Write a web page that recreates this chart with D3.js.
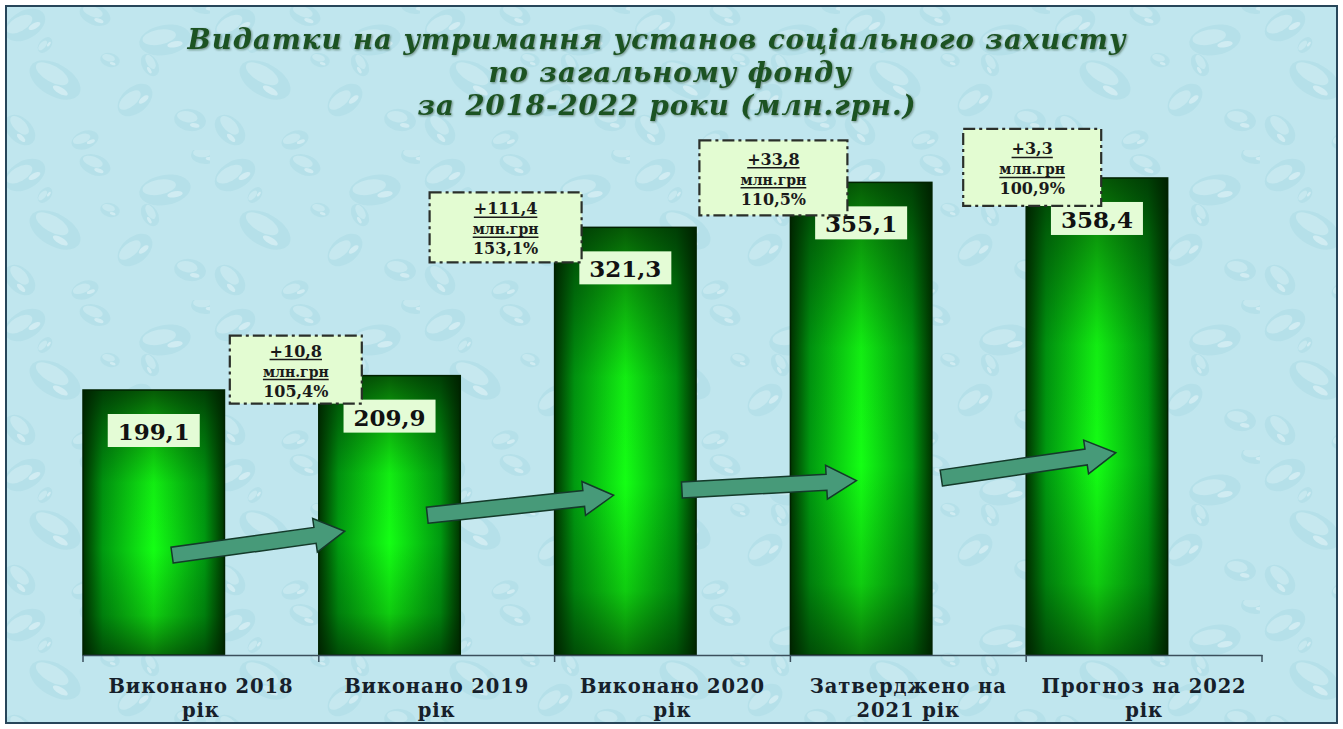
<!DOCTYPE html>
<html>
<head>
<meta charset="utf-8">
<script src="https://cdn.jsdelivr.net/npm/d3@7/dist/d3.min.js"></script>
<style>
  html, body { margin: 0; padding: 0; background: #ffffff; }
  svg { display: block; }
</style>
</head>
<body>
<svg id="chart" width="1343" height="729"></svg>
<script>
// ---------------- DATA ----------------
const categories = ["Виконано 2018 рік", "Виконано 2019 рік", "Виконано 2020 рік", "Затверджено на 2021 рік", "Прогноз на 2022 рік"];
const categoryLines = [["Виконано 2018", "рік"], ["Виконано 2019", "рік"], ["Виконано 2020", "рік"], ["Затверджено на", "2021 рік"], ["Прогноз на 2022", "рік"]];
const values = [199.1, 209.9, 321.3, 355.1, 358.4];
const valueLabels = ["199,1", "209,9", "321,3", "355,1", "358,4"];
const deltaLabels = ["+10,8", "+111,4", "+33,8", "+3,3"];
const unitLabel = "млн.грн";
const percentLabels = ["105,4%", "153,1%", "110,5%", "100,9%"];
const titleLines = ["Видатки на утримання установ соціального захисту", "по загальному фонду", "за 2018-2022 роки (млн.грн.)"];

// ---------------- LAYOUT ----------------
const plot = { left: 83, right: 1262, bottom: 655 };
const yMax = 400, pxPerUnit = 1.331;
const annoDx = [-23, -49, -17, 6];
const annoDy = [-40, -35, -42, -49];
const annoW = [132, 152, 148, 138];
const annoH = [68, 70, 75, 77];
const arrowTailF = [0.378, 0.46, 0.54, 0.64];
const arrowTipF = [0.11, 0.25, 0.28, 0.38];
const arrowTailV = [75, 105, 124, 133];
const arrowTipV = [93, 120, 131, 152];

const svg = d3.select("#chart");
const defs = svg.append("defs");

// background texture pattern (water drops)
const pat = defs.append("pattern").attr("id", "drops").attr("patternUnits", "userSpaceOnUse")
  .attr("width", 210).attr("height", 150);
pat.append("rect").attr("width", 210).attr("height", 150).attr("fill", "#c0e6ee");
const dropSpecs = [
  [25, 25, 22, 14, -30], [95, 15, 16, 10, 20], [165, 40, 26, 15, -10], [55, 80, 28, 16, 30],
  [135, 100, 20, 13, -40], [190, 120, 16, 11, 10], [20, 130, 18, 12, 45], [85, 140, 14, 9, -20],
  [150, 65, 12, 8, 60], [205, 5, 14, 9, 0], [110, 60, 10, 7, 15], [45, 45, 9, 6, -50]
];
dropSpecs.forEach(d => {
  const g = pat.append("g").attr("transform", `translate(${d[0]},${d[1]}) rotate(${d[4]})`);
  g.append("ellipse").attr("rx", d[2]).attr("ry", d[3]).attr("fill", "#a6d6e1").attr("opacity", 0.4);
  g.append("ellipse").attr("cx", -d[2] * 0.2).attr("cy", -d[3] * 0.25).attr("rx", d[2] * 0.65).attr("ry", d[3] * 0.5)
    .attr("fill", "#dff4f8").attr("opacity", 0.4);
  g.append("ellipse").attr("cx", d[2] * 0.35).attr("cy", d[3] * 0.4).attr("rx", d[2] * 0.3).attr("ry", d[3] * 0.2)
    .attr("fill", "#f2fcfd").attr("opacity", 0.45);
});

// bar gradients
const hg = defs.append("linearGradient").attr("id", "barH").attr("x1", "0").attr("x2", "1").attr("y1", "0").attr("y2", "0");
[[0, "#003400"], [0.14, "#009a10"], [0.5, "#14ff14"], [0.86, "#009a10"], [1, "#003400"]]
  .forEach(s => hg.append("stop").attr("offset", s[0]).attr("stop-color", s[1]));
const vg = defs.append("linearGradient").attr("id", "barV").attr("x1", "0").attr("x2", "0").attr("y1", "0").attr("y2", "1");
[[0, 0.72], [0.12, 0.45], [0.35, 0.08], [0.6, 0.0], [0.85, 0.22], [1, 0.6]]
  .forEach(s => vg.append("stop").attr("offset", s[0]).attr("stop-color", "#001a00").attr("stop-opacity", s[1]));

const shadow = defs.append("filter").attr("id", "tshadow").attr("x", "-5%").attr("y", "-20%").attr("width", "110%").attr("height", "140%");
shadow.append("feDropShadow").attr("dx", 1).attr("dy", 1).attr("stdDeviation", 1.2)
  .attr("flood-color", "#0a2a10").attr("flood-opacity", 0.5);

// background & frame
svg.append("rect").attr("x", 6).attr("y", 6).attr("width", 1331).attr("height", 717).attr("fill", "url(#drops)");
svg.append("rect").attr("x", 6).attr("y", 6).attr("width", 1331).attr("height", 717)
  .attr("fill", "none").attr("stroke", "#27465a").attr("stroke-width", 2);

// scales
const x = d3.scaleBand().domain(categories).range([plot.left, plot.right]).paddingInner(0).paddingOuter(0);
const y = d3.scaleLinear().domain([0, yMax]).range([plot.bottom, plot.bottom - yMax * pxPerUnit]);
const barW = x.bandwidth() * 0.6;

// bars
const bars = svg.append("g");
categories.forEach((c, i) => {
  const bx = x(c), by = y(values[i]), bh = y(0) - y(values[i]);
  bars.append("rect").attr("x", bx).attr("y", by).attr("width", barW).attr("height", bh).attr("fill", "url(#barH)");
  bars.append("rect").attr("x", bx).attr("y", by).attr("width", barW).attr("height", bh).attr("fill", "url(#barV)")
    .attr("stroke", "#012201").attr("stroke-width", 1.5);
});

// axis
const axis = svg.append("g").attr("transform", `translate(0,${plot.bottom})`)
  .call(d3.axisBottom(x).tickSize(0).tickFormat(""));
axis.select(".domain").attr("stroke", "#3b4f5c").attr("stroke-width", 1.5);
const bounds = categories.map(c => x(c)).concat([plot.right]);
axis.selectAll(".bnd").data(bounds).enter().append("line").attr("class", "bnd")
  .attr("x1", d => d).attr("x2", d => d).attr("y1", 0).attr("y2", 7)
  .attr("stroke", "#3b4f5c").attr("stroke-width", 1.5);

// category labels
const catG = svg.append("g").attr("font-family", "'DejaVu Serif', serif").attr("font-weight", "bold")
  .attr("fill", "#16202a").attr("text-anchor", "middle").attr("font-size", 19.5).attr("letter-spacing", 0.9);
categories.forEach((c, i) => {
  const cx = x(c) + x.bandwidth() / 2;
  categoryLines[i].forEach((ln, k) => {
    catG.append("text").attr("x", cx).attr("y", k === 0 ? 693 : 717).text(ln);
  });
});

// value labels on bars
const vl = svg.append("g");
categories.forEach((c, i) => {
  const cx = x(c) + barW / 2, top = y(values[i]);
  vl.append("rect").attr("x", cx - 46).attr("y", top + 24).attr("width", 92).attr("height", 33)
    .attr("fill", "#e4fcd6");
  vl.append("text").attr("x", cx).attr("y", top + 50).attr("text-anchor", "middle")
    .attr("font-family", "'DejaVu Serif', serif").attr("font-weight", "bold").attr("font-size", 23)
    .attr("fill", "#111").text(valueLabels[i]);
});

// arrows
const arrG = svg.append("g");
for (let i = 0; i < 4; i++) {
  const x0 = x(categories[i]) + arrowTailF[i] * x.step();
  const y0 = y(arrowTailV[i]);
  const x1 = x(categories[i + 1]) + arrowTipF[i] * x.step();
  const y1 = y(arrowTipV[i]);
  const dx = x1 - x0, dy = y1 - y0, L = Math.hypot(dx, dy);
  const ux = dx / L, uy = dy / L, nx = -uy, ny = ux;
  const sw = 8, hw = 17, hl = 30;
  const bx = x1 - ux * hl, by = y1 - uy * hl;
  const pts = [
    [x0 + nx * sw, y0 + ny * sw], [bx + nx * sw, by + ny * sw], [bx + nx * hw, by + ny * hw], [x1, y1],
    [bx - nx * hw, by - ny * hw], [bx - nx * sw, by - ny * sw], [x0 - nx * sw, y0 - ny * sw]
  ];
  arrG.append("polygon").attr("points", pts.map(p => p.join(",")).join(" "))
    .attr("fill", "#479a79").attr("stroke", "#143a2a").attr("stroke-width", 1.5).attr("stroke-linejoin", "miter");
}

// annotation boxes
const an = svg.append("g").attr("font-family", "'DejaVu Serif', serif").attr("font-weight", "bold").attr("fill", "#1a1a1a");
for (let i = 0; i < 4; i++) {
  const cx = x(categories[i + 1]) + annoDx[i];
  const top = y(values[i + 1]) + annoDy[i];
  const w = annoW[i], h = annoH[i];
  an.append("rect").attr("x", cx - w / 2).attr("y", top).attr("width", w).attr("height", h)
    .attr("fill", "#e3fcd2").attr("stroke", "#2a2f2a").attr("stroke-width", 2.2)
    .attr("stroke-dasharray", "12,4,3,4");
  const lines = [[deltaLabels[i], 16, true], [unitLabel, 14, true], [percentLabels[i], 16, false]];
  const offs = [21, 41, 61];
  lines.forEach((l, k) => {
    const ty = top + offs[k] + (h - 68) / 2;
    const t = an.append("text").attr("x", cx).attr("y", ty)
      .attr("text-anchor", "middle").attr("font-size", l[1]).text(l[0]);
    if (l[2]) {
      const bb = t.node().getBBox();
      an.append("line").attr("x1", bb.x).attr("x2", bb.x + bb.width)
        .attr("y1", ty + 3).attr("y2", ty + 3)
        .attr("stroke", "#1a1a1a").attr("stroke-width", 1.5);
    }
  });
}

// title
const tg = svg.append("g").attr("font-family", "'DejaVu Serif', serif").attr("font-weight", "bold")
  .attr("font-style", "italic").attr("fill", "#1e5224").attr("text-anchor", "middle")
  .attr("letter-spacing", 1).attr("font-size", 27.5).attr("filter", "url(#tshadow)");
const titleY = [49, 82, 115];
const titleX = [657, 670, 667];
titleLines.forEach((s, i) => tg.append("text").attr("x", titleX[i]).attr("y", titleY[i]).text(s));
</script>
</body>
</html>
